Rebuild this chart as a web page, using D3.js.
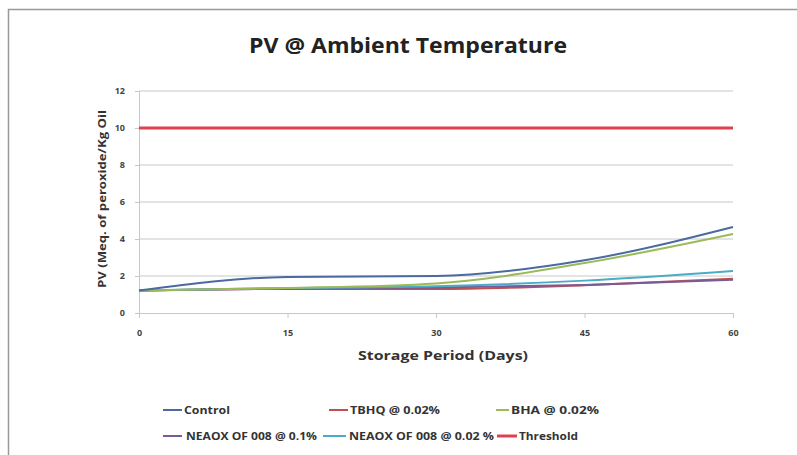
<!DOCTYPE html>
<html><head><meta charset="utf-8">
<script src="https://cdn.jsdelivr.net/npm/d3@7"></script>
<style>body{margin:0;background:#fff}svg{display:block}text{font-family:"Open Sans","Liberation Sans",sans-serif}</style>
</head><body><svg id="c" width="797" height="455"></svg>
<script>
const days = [0, 15, 30, 45, 60];
const yTicks = [0, 2, 4, 6, 8, 10, 12];
const control = [1.22, 1.95, 2.0, 2.85, 4.65];
const tbhq = [1.22, 1.3, 1.3, 1.5, 1.85];
const bha = [1.22, 1.35, 1.6, 2.7, 4.27];
const neaox01 = [1.22, 1.32, 1.38, 1.52, 1.8];
const neaox002 = [1.22, 1.35, 1.45, 1.75, 2.27];
const threshold = [10, 10, 10, 10, 10];
const names = ["Control", "TBHQ @ 0.02%", "BHA @ 0.02%", "NEAOX OF 008 @ 0.1%", "NEAOX OF 008 @ 0.02 %", "Threshold"];
const colors = ["#4a6aa0", "#c0504d", "#9bbb59", "#7a5a98", "#4bacc6", "#e0404e"];
const seriesVals = [control, tbhq, bha, neaox01, neaox002, threshold];

const svg = d3.select("#c");
svg.append("path").attr("d","M8.5,455 V9.5 H797").attr("fill","none").attr("stroke","#999").attr("stroke-width",1.5);

const x = d3.scaleLinear().domain([0,60]).range([139,733]);
const y = d3.scaleLinear().domain([0,12]).range([313,91]);

svg.append("g").selectAll("line").data(yTicks.filter(d=>d>0)).join("line")
  .attr("x1",x(0)).attr("x2",x(60)).attr("y1",d=>y(d)).attr("y2",d=>y(d))
  .attr("stroke","#c8c8c8").attr("stroke-width",1);

const ya = svg.append("g").attr("transform",`translate(${x(0)},0)`)
  .call(d3.axisLeft(y).tickValues(yTicks).tickSize(4).tickPadding(10).tickFormat(d3.format("d")));
ya.select(".domain").attr("stroke","#c8c8c8");
ya.selectAll(".tick line").attr("stroke","#c8c8c8");
ya.selectAll("text").attr("font-size",9).attr("font-weight","bold").attr("fill","#444");

const xa = svg.append("g").attr("transform",`translate(0,${y(0)})`)
  .call(d3.axisBottom(x).tickValues(days).tickSize(5).tickPadding(12).tickFormat(d3.format("d")));
xa.select(".domain").attr("stroke","#c8c8c8");
xa.selectAll(".tick line").attr("stroke","#c8c8c8");
xa.selectAll("text").attr("font-size",9).attr("font-weight","bold").attr("fill","#444");

const line = d3.line().x((d,i)=>x(days[i])).y(d=>y(d)).curve(d3.curveMonotoneX);
const order = [1,3,4,2,0,5];
order.forEach(k=>{
  svg.append("path").datum(seriesVals[k]).attr("d",line).attr("fill","none")
    .attr("stroke",colors[k]).attr("stroke-width",k===5?3:2);
});

svg.append("text").attr("x",408).attr("y",53).attr("text-anchor","middle")
  .attr("font-size",22).attr("font-weight","bold").attr("fill","#222")
  .attr("textLength",318).attr("lengthAdjust","spacingAndGlyphs").text("PV @ Ambient Temperature");
svg.append("text").attr("x",443).attr("y",360).attr("text-anchor","middle")
  .attr("font-size",13).attr("font-weight","bold").attr("fill","#333")
  .attr("textLength",170).attr("lengthAdjust","spacingAndGlyphs").text("Storage Period (Days)");
svg.append("text").attr("transform","translate(106,199) rotate(-90)").attr("text-anchor","middle")
  .attr("font-size",11).attr("font-weight","bold").attr("fill","#333")
  .attr("textLength",178).attr("lengthAdjust","spacingAndGlyphs").text("PV (Meq. of peroxide/Kg Oil");

// legend: [lineX1, lineX2, textX, y, textWidth]
const legPos = [[163,182,184,410,46],[329,348,350,410,90],[496,509,511,410,88],
                [163,182,186,436,131],[323,346,349,436,145],[497,517,519,436,59]];
legPos.forEach((p,k)=>{
  svg.append("line").attr("x1",p[0]).attr("x2",p[1]).attr("y1",p[3]).attr("y2",p[3])
    .attr("stroke",colors[k]).attr("stroke-width",k===5?3:2);
  svg.append("text").attr("x",p[2]).attr("y",p[3]+4).attr("font-size",11).attr("font-weight","bold")
    .attr("fill","#333").attr("textLength",p[4]).attr("lengthAdjust","spacingAndGlyphs").text(names[k]);
});
</script></body></html>
